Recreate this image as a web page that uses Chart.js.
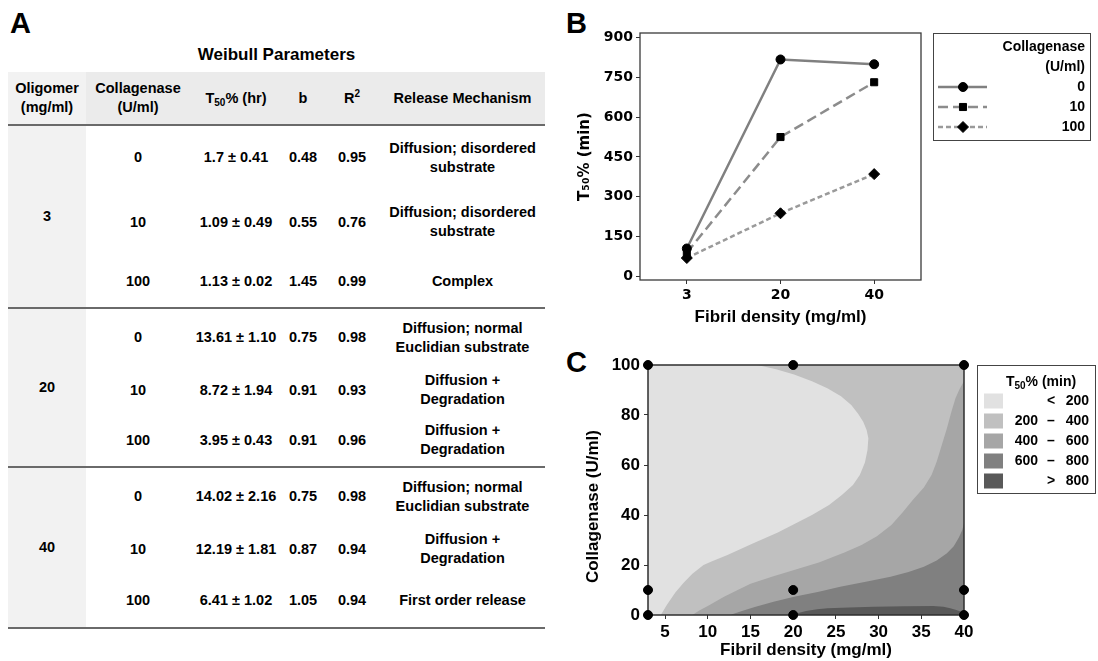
<!DOCTYPE html>
<html>
<head>
<meta charset="utf-8">
<title>Weibull parameters and T50%</title>
<script src="https://cdn.jsdelivr.net/npm/chart.js@4.4.1/dist/chart.umd.min.js"></script>
<style>
  html, body { margin: 0; padding: 0; background: #fff; }
  body { width: 1098px; height: 661px; position: relative; overflow: hidden;
         font-family: "Liberation Sans", Arial, sans-serif; color: #000; }
  .letter { position: absolute; font-weight: bold; font-size: 29px; line-height: 29px; }
  #tableTitle { position: absolute; left: 8px; width: 537px; top: 45px; text-align: center;
                font-weight: bold; font-size: 17px; line-height: 20px; }
  #weibull { position: absolute; left: 8px; top: 72px; width: 537px; border-collapse: collapse;
             table-layout: fixed; font-weight: bold; font-size: 14.5px; line-height: 19px; }
  #weibull td, #weibull th { padding: 0; text-align: center; vertical-align: middle; }
  #weibull thead tr { background: #ebebeb; height: 53px; }
  #weibull thead th { border-bottom: 2px solid #6a6a6a; font-weight: bold; }
  #weibull .olig { background: #f2f2f2; border-bottom: 2px solid #6a6a6a; }
  #weibull tr.groupEnd td { border-bottom: 2px solid #6a6a6a; }
  #weibull .mech { white-space: pre-line; }
  #weibull sub { font-size: 10px; line-height: 0; vertical-align: -3px; }
  #weibull sup { font-size: 10px; line-height: 0; vertical-align: 6px; }
  canvas { position: absolute; }
</style>
</head>
<body>
<div class="letter" style="left:10px;top:9px">A</div>
<div class="letter" style="left:566px;top:9px">B</div>
<div class="letter" style="left:566px;top:348px">C</div>
<div id="tableTitle">Weibull Parameters</div>
<table id="weibull">
  <colgroup>
    <col style="width:78px"><col style="width:104px"><col style="width:92px">
    <col style="width:42px"><col style="width:56px"><col style="width:165px">
  </colgroup>
  <thead>
    <tr>
      <th class="olig" style="border-bottom:2px solid #6a6a6a">Oligomer<br>(mg/ml)</th>
      <th>Collagenase<br>(U/ml)</th>
      <th>T<sub>50</sub>% (hr)</th>
      <th>b</th>
      <th>R<sup>2</sup></th>
      <th>Release Mechanism</th>
    </tr>
  </thead>
  <tbody id="weibullBody"></tbody>
</table>
<canvas id="chartB" width="538" height="335" style="left:560px;top:0px"></canvas>
<canvas id="chartC" width="538" height="336" style="left:560px;top:325px"></canvas>

<script>
// ---- panel A: Weibull table ----
const oligomerLevels = ['3', '20', '40'];
const collagenaseLevels = ['0', '10', '100'];
const t50Hours = ['1.7 ± 0.41', '1.09 ± 0.49', '1.13 ± 0.02',
                  '13.61 ± 1.10', '8.72 ± 1.94', '3.95 ± 0.43',
                  '14.02 ± 2.16', '12.19 ± 1.81', '6.41 ± 1.02'];
const bValues = ['0.48', '0.55', '1.45', '0.75', '0.91', '0.91', '0.75', '0.87', '1.05'];
const r2Values = ['0.95', '0.76', '0.99', '0.98', '0.93', '0.96', '0.98', '0.94', '0.94'];
const mechanisms = ['Diffusion; disordered\nsubstrate', 'Diffusion; disordered\nsubstrate', 'Complex',
                    'Diffusion; normal\nEuclidian substrate', 'Diffusion +\nDegradation', 'Diffusion +\nDegradation',
                    'Diffusion; normal\nEuclidian substrate', 'Diffusion +\nDegradation', 'First order release'];
const rowHeights = [[64, 66, 53], [58, 48, 53], [58, 48, 55]];

// ---- panel B: T50% vs fibril density ----
const densityLabels = ['3', '20', '40'];
const t50Coll0 = [104, 818, 800];
const t50Coll10 = [88, 525, 732];
const t50Coll100 = [68, 237, 385];
const t50Ticks = [0, 150, 300, 450, 600, 750, 900];

// ---- panel C: contour map, boundaries [density, collagenase] ----
const densityTicksC = [5, 10, 15, 20, 25, 30, 35, 40];
const collagenaseTicksC = [0, 20, 40, 60, 80, 100];
const sampleDensity = [3, 20, 40];
const sampleCollagenase = [0, 10, 100];
const edge200 = [[4.5, 0], [5.2, 4], [6.2, 9], [7.2, 13], [8.2, 16.5], [9.5, 20], [10.5, 21.5], [12.3, 24],
                 [15.2, 28.5], [18.2, 33], [20.2, 36.5], [22.2, 40], [24.2, 44], [25.7, 48], [27.0, 52],
                 [27.8, 56], [28.4, 61], [28.7, 66], [28.8, 70.7], [28.6, 74], [28.2, 77.3], [27.6, 80.5],
                 [26.8, 84], [25.6, 87.5], [24.0, 90.7], [22.2, 93.5], [20.1, 96.2], [18, 98.3], [15.8, 100]];
const edge400 = [[8.2, 0], [9, 1.8], [10, 3.6], [11.9, 7.3], [13.5, 10], [15, 12.5], [17.5, 15.3], [20.1, 18],
                 [23, 21], [26, 25], [28, 28], [29.8, 31.5], [31.5, 36], [32.8, 41], [34, 46], [35.3, 51],
                 [36.2, 56], [36.8, 61.3], [37.4, 68], [38, 74.7], [38.5, 81], [39, 86.7], [39.5, 90.5], [40, 93.5]];
const edge600 = [[12.6, 0], [14, 1.6], [15.5, 3.2], [17.7, 5.3], [20.1, 7.3], [23, 9.3], [25.5, 11.3],
                 [28.5, 13.3], [31.4, 15.3], [33.5, 17.2], [35.3, 19.3], [36.8, 21.8], [38, 24.7],
                 [38.8, 27.5], [39.4, 31], [39.8, 34], [40, 36.7]];
const edge800 = [[20, 0], [20.6, 0.8], [21.5, 1.6], [22.8, 2.3], [24, 2.7], [26.5, 3.0], [29.4, 3.3],
                 [33, 3.5], [36.4, 3.6], [37.6, 3.3], [38.4, 2.7], [39.1, 2], [39.7, 1.3], [40, 0.6]];
const levelColors = ['#e1e1e1', '#c0c0c0', '#a6a6a6', '#808080', '#595959'];
const levelLabels = [['', '<', '200'], ['200', '–', '400'], ['400', '–', '600'], ['600', '–', '800'], ['', '>', '800']];

// build table
const tbody = document.getElementById('weibullBody');
oligomerLevels.forEach((olig, g) => {
    collagenaseLevels.forEach((coll, r) => {
        const i = g * 3 + r;
        const tr = document.createElement('tr');
        tr.style.height = rowHeights[g][r] + 'px';
        if (r === 2) tr.className = 'groupEnd';
        tr.innerHTML =
            (r === 0 ? `<td class="olig" rowspan="3">${olig}</td>` : '') +
            `<td>${coll}</td><td>${t50Hours[i]}</td><td>${bValues[i]}</td><td>${r2Values[i]}</td>` +
            `<td class="mech">${mechanisms[i]}</td>`;
        tbody.appendChild(tr);
    });
});

const tickFontB = { family: 'DejaVu Sans', weight: 'bold', size: 14 };
const axisDark = '#333';

const frameB = {
    id: 'frameB',
    beforeDatasetsDraw(chart) {
        const { ctx, chartArea: a } = chart;
        ctx.save();
        ctx.strokeStyle = '#3a3a3a';
        ctx.lineWidth = 1.3;
        ctx.strokeRect(a.left, a.top, a.right - a.left, a.bottom - a.top);
        ctx.restore();
    },
    afterDraw(chart) {
        const ctx = chart.ctx;
        ctx.save();
        ctx.strokeStyle = '#444';
        ctx.lineWidth = 1;
        ctx.strokeRect(373.5, 33.5, 157, 107);
        ctx.fillStyle = '#000';
        ctx.font = 'bold 14px "Liberation Sans", Arial';
        ctx.textAlign = 'right';
        ctx.textBaseline = 'middle';
        ctx.fillText('Collagenase', 525, 47);
        ctx.fillText('(U/ml)', 525, 67);
        chart.data.datasets.forEach((ds, i) => {
            const y = 87 + i * 20;
            ctx.strokeStyle = ds.borderColor;
            ctx.lineWidth = ds.borderWidth;
            ctx.setLineDash(ds.borderDash);
            ctx.beginPath();
            ctx.moveTo(378, y);
            ctx.lineTo(427, y);
            ctx.stroke();
            ctx.setLineDash([]);
            ctx.fillStyle = '#000';
            ctx.strokeStyle = '#000';
            ctx.lineWidth = 1;
            Chart.helpers.drawPoint(ctx, { pointStyle: ds.pointStyle, radius: ds.pointRadius, rotation: 0, borderWidth: 1 }, 403, y);
            ctx.fillText(ds.label, 525, y);
        });
        ctx.restore();
    }
};

new Chart(document.getElementById('chartB'), {
    type: 'line',
    data: {
        labels: densityLabels,
        datasets: [
            { label: collagenaseLevels[0], data: t50Coll0, borderColor: '#808080', borderWidth: 2.5, borderDash: [],
              pointStyle: 'circle', pointRadius: 4.5 },
            { label: collagenaseLevels[1], data: t50Coll10, borderColor: '#8c8c8c', borderWidth: 2.5, borderDash: [10, 5],
              pointStyle: 'rect', pointRadius: 5 },
            { label: collagenaseLevels[2], data: t50Coll100, borderColor: '#9a9a9a', borderWidth: 2.5, borderDash: [5, 3],
              pointStyle: 'rectRot', pointRadius: 5.5 }
        ].map(d => Object.assign(d, { pointBackgroundColor: '#000', pointBorderColor: '#000', pointBorderWidth: 1, tension: 0 }))
    },
    options: {
        responsive: false,
        animation: false,
        events: [],
        layout: { padding: { top: 33, right: 177, left: 0, bottom: 0 } },
        plugins: { legend: { display: false }, tooltip: { enabled: false } },
        scales: {
            x: {
                type: 'category',
                offset: true,
                grid: { offset: false, drawOnChartArea: false, tickLength: 4, color: axisDark },
                border: { display: false },
                ticks: { padding: 3, color: '#000', font: tickFontB },
                title: { display: true, text: 'Fibril density (mg/ml)', color: '#000',
                         font: { family: 'Liberation Sans', weight: 'bold', size: 17 }, padding: { top: 0, bottom: 7 } },
                afterFit: s => { s.height = 55; }
            },
            y: {
                min: -15,
                max: 918,
                afterBuildTicks: s => { s.ticks = t50Ticks.map(v => ({ value: v })); },
                grid: { drawOnChartArea: false, tickLength: 4, color: axisDark },
                border: { display: false },
                ticks: { padding: 3, color: '#000', font: tickFontB },
                title: { display: true, text: 'T₅₀% (min)', color: '#000',
                         font: { family: 'DejaVu Sans', weight: 'bold', size: 15 }, padding: { top: 16, bottom: 0 } },
                afterFit: s => { s.width = 80; }
            }
        }
    },
    plugins: [frameB]
});

// contour polygons: region with T50 below each level
const toPts = arr => arr.map(([x, y]) => ({ x, y }));
const polyBelow200 = [[3, 0], ...edge200, [3, 100]];
const polyBelow400 = [[3, 0], ...edge400, [40, 100], [3, 100]];
const polyBelow600 = [[3, 0], ...edge600, [40, 100], [3, 100]];
const polyBelow800 = [[3, 0], ...edge800, [40, 100], [3, 100]];
const polyAll = [[3, 0], [40, 0], [40, 100], [3, 100]];
const contourPolys = [polyBelow200, polyBelow400, polyBelow600, polyBelow800, polyAll];

const samplePts = [];
sampleDensity.forEach(x => sampleCollagenase.forEach(y => samplePts.push({ x, y })));

const tickFontC = { family: 'Liberation Sans', weight: 'bold', size: 17 };

function drawT50Title(ctx, cx, cy) {
    const big = 'bold 14px "Liberation Sans", Arial';
    const small = 'bold 10px "Liberation Sans", Arial';
    ctx.font = big; const w1 = ctx.measureText('T').width; const w3 = ctx.measureText('% (min)').width;
    ctx.font = small; const w2 = ctx.measureText('50').width;
    let x = cx - (w1 + w2 + w3) / 2;
    ctx.textAlign = 'left';
    ctx.font = big; ctx.fillText('T', x, cy); x += w1;
    ctx.font = small; ctx.fillText('50', x, cy + 4); x += w2;
    ctx.font = big; ctx.fillText('% (min)', x, cy);
}

const frameC = {
    id: 'frameC',
    beforeDatasetDraw(chart, args) {
        if (args.index !== 0) return;
        const { ctx, chartArea: a } = chart;
        ctx.save();
        ctx.strokeStyle = '#2e2e2e';
        ctx.lineWidth = 1.5;
        ctx.strokeRect(a.left, a.top, a.right - a.left, a.bottom - a.top);
        ctx.restore();
    },
    afterDraw(chart) {
        const ctx = chart.ctx;
        ctx.save();
        ctx.strokeStyle = '#444';
        ctx.lineWidth = 1;
        ctx.strokeRect(417.5, 40.5, 118, 128);
        ctx.fillStyle = '#000';
        ctx.textBaseline = 'middle';
        drawT50Title(ctx, 481, 57);
        ctx.font = 'bold 14px "Liberation Sans", Arial';
        levelLabels.forEach((lab, i) => {
            const y = 76 + i * 20;
            ctx.fillStyle = levelColors[i];
            ctx.fillRect(424, y - 7.5, 19, 15);
            ctx.fillStyle = '#000';
            ctx.textAlign = 'right';
            ctx.fillText(lab[0], 478, y);
            ctx.fillText(lab[2], 529, y);
            ctx.textAlign = 'center';
            ctx.fillText(lab[1], 491, y);
        });
        ctx.restore();
    }
};

new Chart(document.getElementById('chartC'), {
    type: 'line',
    data: {
        datasets: [
            { label: 'samples', data: samplePts, showLine: false, pointRadius: 4.5, pointBackgroundColor: '#000',
              pointBorderColor: '#000', clip: false, order: 0 },
            ...contourPolys.map((poly, i) => ({
                label: 'level ' + i,
                data: toPts(poly),
                fill: 'shape',
                backgroundColor: levelColors[i],
                borderColor: 'rgba(0,0,0,0)',
                borderWidth: 0,
                pointRadius: 0,
                tension: 0,
                order: i + 1
            }))
        ]
    },
    options: {
        responsive: false,
        animation: false,
        events: [],
        layout: { padding: { top: 40, right: 134, left: 0, bottom: 0 } },
        plugins: { legend: { display: false }, tooltip: { enabled: false } },
        scales: {
            x: {
                type: 'linear',
                min: 3,
                max: 40,
                afterBuildTicks: s => { s.ticks = densityTicksC.map(v => ({ value: v })); },
                grid: { drawOnChartArea: false, tickLength: 4, color: axisDark },
                border: { display: false },
                ticks: { padding: 3, color: '#000', font: tickFontC },
                title: { display: true, text: 'Fibril density (mg/ml)', color: '#000',
                         font: { family: 'Liberation Sans', weight: 'bold', size: 17 }, padding: { top: 0, bottom: 0 } },
                afterFit: s => { s.height = 46; }
            },
            y: {
                min: 0,
                max: 100,
                afterBuildTicks: s => { s.ticks = collagenaseTicksC.map(v => ({ value: v })); },
                grid: { drawOnChartArea: false, tickLength: 4, color: axisDark },
                border: { display: false },
                ticks: { padding: 4, color: '#000', font: tickFontC },
                title: { display: true, text: 'Collagenase (U/ml)       ', color: '#000',
                         font: { family: 'Liberation Sans', weight: 'bold', size: 17 }, padding: { top: 23, bottom: 0 } },
                afterFit: s => { s.width = 88; }
            }
        }
    },
    plugins: [frameC]
});
</script>
</body>
</html>
